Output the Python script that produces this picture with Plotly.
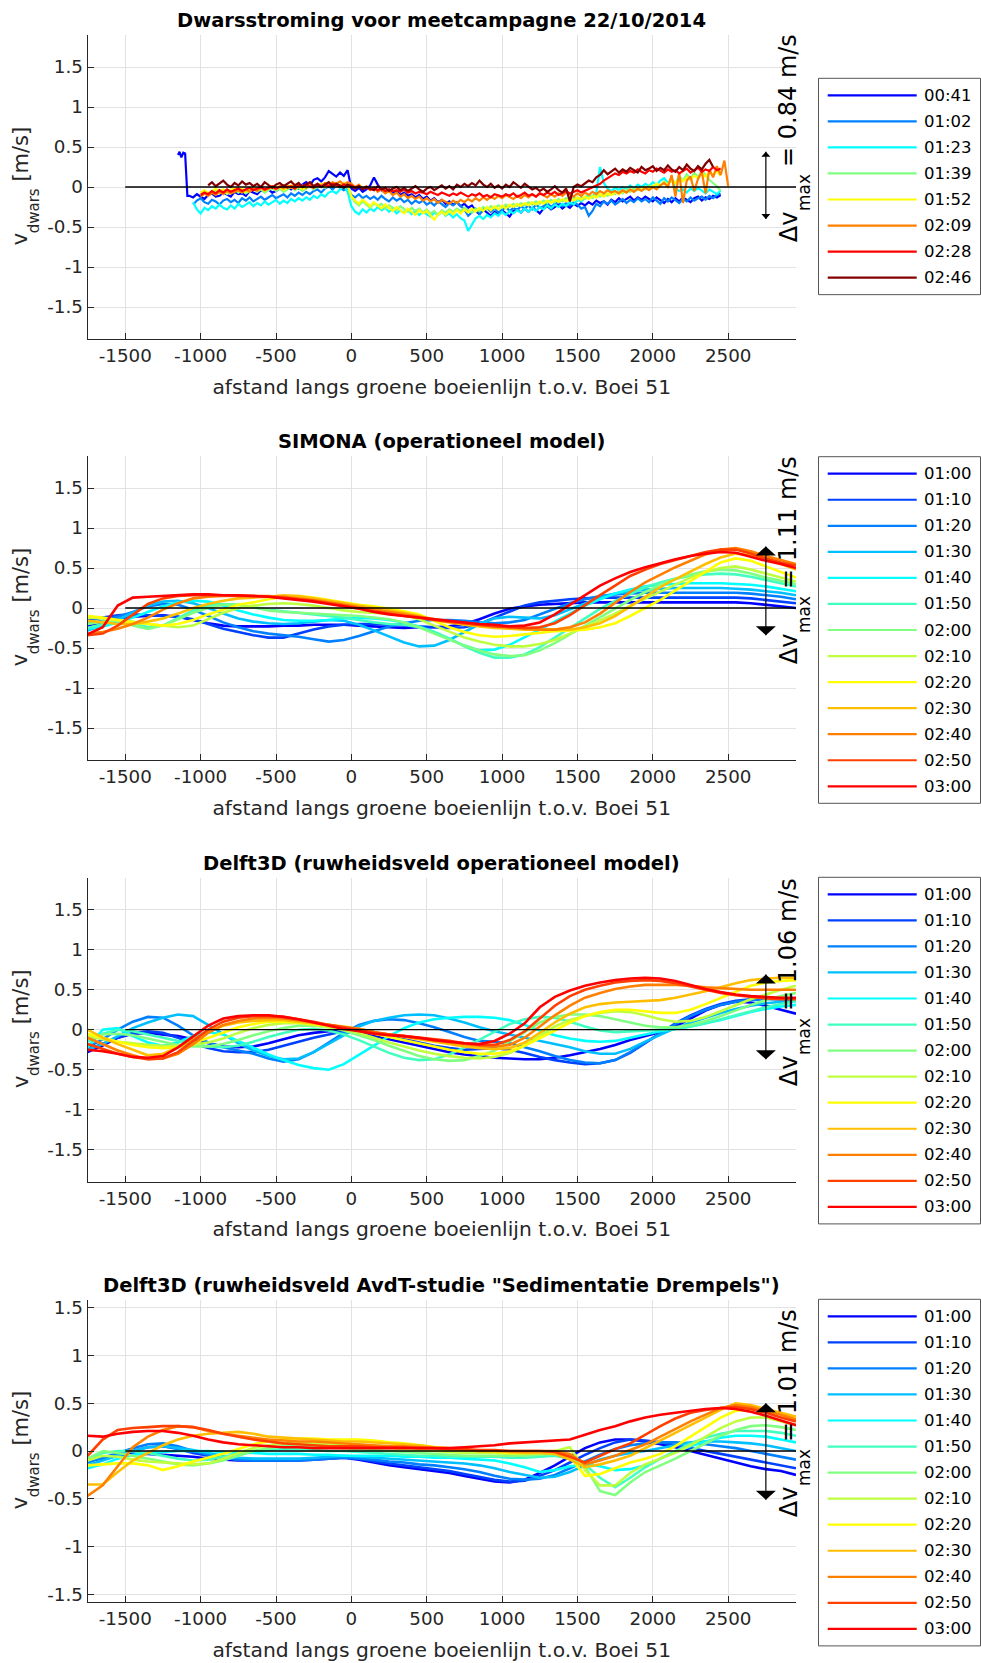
import plotly.graph_objects as go

FONT = "DejaVu Sans"
INK = "#262626"

# ---------------------------------------------------------------------------
# Panel 1: measured cross-current along the green buoy line (22/10/2014)
# ---------------------------------------------------------------------------
MEAS_TIMES = ["00:41", "01:02", "01:23", "01:39", "01:52", "02:09", "02:28", "02:46"]

M0041_X = [-1150, -1140, -1128, -1115, -1103, -1095, -1088] + list(range(-1075, 2451, 25))
M0041_V = [0.40, 0.44, 0.37, 0.43, 0.42, 0.10, -0.11,
           -0.11, -0.13, -0.09, -0.12, -0.15, -0.10, -0.08, -0.12, -0.11, -0.07,
           -0.10, -0.12, -0.06, -0.09, -0.08, -0.11, -0.05, -0.07, -0.09, -0.04,
           -0.06, -0.03, -0.07, -0.05, -0.02, -0.04, 0.00, -0.03, 0.01, -0.02,
           0.03, 0.06, 0.02, 0.09, 0.11, 0.07, 0.12, 0.20, 0.16, 0.13,
           0.18, 0.14, 0.21, -0.02, -0.05, -0.01, -0.06, -0.03, 0.02, 0.12,
           0.03, -0.04, -0.07, -0.03, -0.08, -0.05, -0.10, -0.07, -0.11, -0.09,
           -0.13, -0.10, -0.15, -0.12, -0.17, -0.14, -0.19, -0.16, -0.21, -0.18,
           -0.22, -0.19, -0.24, -0.21, -0.26, -0.23, -0.30, -0.34, -0.28, -0.32,
           -0.36, -0.31, -0.34, -0.29, -0.33, -0.37, -0.30, -0.28, -0.32, -0.27,
           -0.31, -0.26, -0.29, -0.33, -0.27, -0.24, -0.28, -0.25, -0.22, -0.27,
           -0.23, -0.26, -0.21, -0.24, -0.20, -0.23, -0.19, -0.22, -0.17, -0.20,
           -0.18, -0.22, -0.16, -0.19, -0.14, -0.18, -0.15, -0.12, -0.17, -0.13,
           -0.16, -0.12, -0.15, -0.18, -0.13, -0.17, -0.20, -0.15, -0.19, -0.14,
           -0.18, -0.13, -0.16, -0.19, -0.14, -0.12, -0.17, -0.13, -0.15, -0.11,
           -0.13, -0.10]

M0102_X = list(range(-1050, 2451, 25))
M0102_V = [-0.22, -0.17, -0.14, -0.19, -0.21, -0.16, -0.18, -0.22, -0.17, -0.15,
           -0.19, -0.16, -0.20, -0.14, -0.17, -0.13, -0.18, -0.15, -0.12, -0.16,
           -0.13, -0.10, -0.14, -0.11, -0.09, -0.13, -0.08, -0.11, -0.07, -0.10,
           -0.06, -0.09, -0.05, -0.03, -0.07, -0.02, 0.01, -0.03, 0.02, -0.01,
           -0.04, -0.02, -0.10, -0.13, -0.09, -0.14, -0.11, -0.15, -0.12, -0.16,
           -0.11, -0.15, -0.18, -0.13, -0.17, -0.14, -0.19, -0.16, -0.21, -0.17,
           -0.20, -0.17, -0.22, -0.19, -0.23, -0.18, -0.21, -0.25, -0.20, -0.23,
           -0.19, -0.24, -0.28, -0.36, -0.31, -0.27, -0.33, -0.29, -0.26, -0.31,
           -0.27, -0.32, -0.28, -0.25, -0.30, -0.26, -0.29, -0.24, -0.27, -0.23,
           -0.28, -0.22, -0.26, -0.24, -0.20, -0.25, -0.21, -0.19, -0.24, -0.20,
           -0.23, -0.19, -0.22, -0.27, -0.25, -0.36, -0.30, -0.21, -0.24, -0.18,
           -0.21, -0.17, -0.22, -0.18, -0.15, -0.20, -0.16, -0.19, -0.14, -0.18,
           -0.15, -0.19, -0.13, -0.17, -0.21, -0.14, -0.18, -0.13, -0.16, -0.20,
           -0.15, -0.18, -0.13, -0.17, -0.14, -0.12, -0.16, -0.11, -0.14, -0.10,
           -0.08]

M0123_X = list(range(-1050, 2451, 25))
M0123_V = [-0.19, -0.28, -0.33, -0.26, -0.29, -0.24, -0.27, -0.22, -0.26, -0.28,
           -0.23, -0.27, -0.21, -0.25, -0.22, -0.19, -0.24, -0.20, -0.23, -0.18,
           -0.22, -0.19, -0.16, -0.21, -0.17, -0.20, -0.15, -0.18, -0.14, -0.17,
           -0.13, -0.16, -0.11, -0.14, -0.09, -0.12, -0.07, -0.05, -0.08, -0.03,
           0.01, -0.06, -0.24, -0.31, -0.34, -0.28, -0.32, -0.27, -0.30, -0.25,
           -0.29, -0.26, -0.31, -0.27, -0.33, -0.29, -0.32, -0.28, -0.34, -0.30,
           -0.35, -0.31, -0.34, -0.37, -0.32, -0.35, -0.31, -0.36, -0.33, -0.38,
           -0.34, -0.39, -0.42, -0.55, -0.47, -0.39, -0.36, -0.40, -0.35, -0.38,
           -0.33, -0.36, -0.31, -0.35, -0.30, -0.33, -0.29, -0.32, -0.27, -0.31,
           -0.26, -0.30, -0.25, -0.28, -0.23, -0.27, -0.22, -0.25, -0.21, -0.24,
           -0.19, -0.22, -0.16, -0.18, -0.13, -0.10, -0.12, -0.07, 0.25, 0.05,
           -0.02, -0.05, -0.01, -0.04, 0.00, -0.03, 0.02, -0.02, 0.03, 0.00,
           0.04, 0.01, 0.06, 0.02, 0.08, 0.11, 0.05, 0.09, -0.02, -0.05,
           -0.03, -0.07, -0.02, -0.05, -0.01, -0.04, -0.08, -0.03, -0.06, -0.09,
           -0.04]

M0139_X = list(range(-1000, 2451, 25))
M0139_V = [-0.09, -0.06, -0.10, -0.07, -0.04, -0.08, -0.05, -0.09, -0.06, -0.03,
           -0.07, -0.04, -0.08, -0.05, -0.02, -0.06, -0.03, -0.07, -0.04, -0.01,
           -0.05, -0.02, -0.06, -0.03, 0.00, -0.04, -0.01, -0.05, -0.02, 0.01,
           -0.03, 0.00, 0.03, -0.01, 0.02, 0.04, 0.00, 0.03, 0.05, 0.01,
           -0.12, -0.19, -0.23, -0.18, -0.22, -0.26, -0.20, -0.24, -0.21, -0.27,
           -0.23, -0.26, -0.29, -0.24, -0.28, -0.31, -0.26, -0.30, -0.27, -0.32,
           -0.28, -0.33, -0.30, -0.35, -0.29, -0.32, -0.28, -0.31, -0.27, -0.30,
           -0.26, -0.29, -0.32, -0.27, -0.30, -0.25, -0.28, -0.24, -0.27, -0.23,
           -0.26, -0.22, -0.25, -0.21, -0.24, -0.20, -0.23, -0.19, -0.22, -0.18,
           -0.21, -0.17, -0.20, -0.16, -0.19, -0.15, -0.18, -0.14, -0.17, -0.13,
           -0.16, -0.12, -0.15, -0.11, -0.14, -0.09, -0.12, -0.08, -0.11, -0.06,
           -0.09, -0.05, -0.08, -0.03, -0.06, -0.02, -0.04, 0.00, -0.03, 0.02,
           0.00, 0.04, 0.01, 0.07, 0.03, 0.10, 0.05, 0.14, 0.08, 0.16,
           0.10, 0.18, 0.12, 0.21, 0.15, 0.09, 0.05, 0.01, -0.05]

M0152_X = list(range(-1000, 2451, 25))
M0152_V = [-0.07, -0.04, -0.08, -0.05, -0.02, -0.06, -0.03, -0.07, -0.04, -0.01,
           -0.05, -0.02, -0.06, -0.03, 0.00, -0.04, -0.01, -0.05, -0.02, 0.01,
           -0.03, 0.00, -0.04, -0.01, 0.02, -0.02, 0.01, -0.03, 0.00, 0.03,
           -0.01, 0.02, 0.04, 0.00, 0.03, 0.01, 0.04, 0.02, 0.05, 0.02,
           -0.12, -0.17, -0.21, -0.16, -0.20, -0.24, -0.19, -0.23, -0.27, -0.22,
           -0.26, -0.30, -0.25, -0.29, -0.33, -0.27, -0.31, -0.35, -0.29, -0.33,
           -0.30, -0.36, -0.41, -0.34, -0.31, -0.35, -0.30, -0.34, -0.29, -0.33,
           -0.28, -0.32, -0.27, -0.31, -0.26, -0.30, -0.25, -0.29, -0.24, -0.28,
           -0.23, -0.27, -0.22, -0.25, -0.21, -0.24, -0.20, -0.23, -0.19, -0.22,
           -0.18, -0.21, -0.17, -0.20, -0.16, -0.19, -0.15, -0.18, -0.14, -0.17,
           -0.13, -0.16, -0.12, -0.15, -0.11, -0.13, -0.09, -0.12, -0.08, -0.10,
           -0.06, -0.09, -0.05, -0.07, -0.03, -0.06, -0.02, -0.04, 0.00, -0.02,
           0.01, 0.04, 0.02, 0.06, 0.03, 0.08, 0.05, 0.10, 0.07, 0.12,
           0.09, 0.14, 0.11, 0.17, 0.13, 0.19, 0.15, 0.20, 0.14]

M0209_X = list(range(-1000, 2501, 25))
M0209_V = [-0.12, -0.08, -0.11, -0.07, -0.10, -0.06, -0.09, -0.05, -0.08, -0.06,
           -0.04, -0.07, -0.03, -0.06, -0.02, -0.05, -0.01, -0.04, -0.02, 0.00,
           -0.03, 0.01, -0.02, 0.02, -0.01, 0.03, 0.00, 0.02, -0.01, 0.03,
           0.01, 0.04, 0.02, 0.05, 0.03, 0.06, 0.04, 0.07, 0.03, 0.06,
           0.04, 0.00, 0.03, -0.02, 0.01, -0.04, -0.01, -0.06, -0.03, -0.08,
           -0.05, -0.10, -0.07, -0.12, -0.09, -0.14, -0.11, -0.15, -0.12, -0.17,
           -0.14, -0.18, -0.15, -0.20, -0.16, -0.19, -0.21, -0.17, -0.20, -0.16,
           -0.19, -0.15, -0.18, -0.14, -0.17, -0.13, -0.16, -0.12, -0.15, -0.11,
           -0.14, -0.10, -0.13, -0.15, -0.11, -0.14, -0.10, -0.13, -0.09, -0.12,
           -0.08, -0.11, -0.13, -0.09, -0.12, -0.08, -0.11, -0.07, -0.10, -0.12,
           -0.08, -0.11, -0.07, -0.10, -0.06, -0.09, -0.05, -0.08, -0.04, -0.07,
           -0.05, -0.08, -0.04, -0.07, -0.03, -0.06, -0.02, -0.05, -0.01, -0.04,
           0.00, -0.03, 0.02, 0.05, 0.00, 0.15, -0.12, 0.18, -0.20, 0.08,
           0.13, -0.05, 0.10, 0.19, -0.08, 0.22, 0.12, 0.26, 0.15, 0.33,
           0.01]

M0228_X = list(range(-1000, 2451, 25))
M0228_V = [-0.10, -0.07, -0.09, -0.05, -0.08, -0.04, -0.07, -0.03, -0.06, -0.04,
           -0.02, -0.05, -0.03, -0.01, -0.04, -0.02, 0.00, -0.03, -0.01, 0.01,
           -0.02, 0.00, 0.02, -0.01, 0.01, -0.02, 0.02, 0.00, 0.03, 0.01,
           -0.01, 0.02, 0.00, 0.03, 0.01, 0.04, 0.02, 0.00, 0.03, 0.01,
           0.02, -0.01, 0.01, -0.02, 0.00, -0.03, -0.01, -0.04, -0.02, -0.05,
           -0.03, -0.05, -0.04, -0.06, -0.03, -0.07, -0.05, -0.08, -0.06, -0.07,
           -0.09, -0.06, -0.08, -0.10, -0.07, -0.09, -0.11, -0.08, -0.10, -0.07,
           -0.10, -0.12, -0.09, -0.11, -0.08, -0.12, -0.10, -0.13, -0.09, -0.11,
           -0.12, -0.09, -0.11, -0.08, -0.12, -0.10, -0.07, -0.11, -0.09, -0.12,
           -0.08, -0.10, -0.07, -0.09, -0.06, -0.10, -0.07, -0.05, -0.08, -0.06,
           -0.04, -0.07, -0.05, -0.03, -0.01, 0.02, 0.04, 0.08, 0.11, 0.14,
           0.17, 0.15, 0.19, 0.17, 0.20, 0.18, 0.22, 0.19, 0.17, 0.21,
           0.19, 0.23, 0.20, 0.18, 0.22, 0.19, 0.21, 0.17, 0.20, 0.23,
           0.18, 0.21, 0.24, 0.19, 0.22, 0.20, 0.25, 0.21, 0.23]

M0246_X = list(range(-950, 2401, 25))
M0246_V = [0.02, 0.06, 0.01, 0.04, 0.08, 0.03, 0.00, 0.05, 0.02, 0.07,
           0.03, 0.05, 0.01, 0.04, 0.00, 0.06, 0.02, -0.01, 0.03, 0.05,
           0.01, 0.04, 0.07, 0.02, 0.05, 0.00, 0.03, 0.06, 0.01, 0.04,
           0.00, 0.03, 0.06, 0.01, 0.04, 0.02, -0.01, 0.03, 0.00, -0.02,
           0.01, -0.03, 0.00, -0.02, -0.04, 0.01, -0.03, -0.01, -0.05, -0.02,
           0.00, -0.04, -0.01, -0.05, -0.02, 0.01, -0.03, -0.06, -0.02, 0.00,
           -0.04, -0.01, 0.02, -0.02, 0.01, -0.03, 0.03, 0.00, 0.04, 0.01,
           0.05, 0.02, 0.08, 0.03, 0.00, 0.04, -0.01, 0.02, -0.02, 0.03,
           0.00, 0.06, 0.02, -0.01, 0.04, 0.00, -0.03, -0.01, -0.05, -0.02,
           -0.06, -0.03, 0.01, -0.04, -0.07, -0.02, -0.18, 0.00, 0.03, 0.01,
           0.05, 0.08, 0.06, 0.12, 0.15, 0.21, 0.16, 0.19, 0.23, 0.18,
           0.22, 0.19, 0.24, 0.21, 0.18, 0.25, 0.21, 0.23, 0.26, 0.20,
           0.24, 0.21, 0.27, 0.22, 0.19, 0.25, 0.21, 0.28, 0.23, 0.20,
           0.26, 0.22, 0.29, 0.34, 0.25]

# ---------------------------------------------------------------------------
# Panels 2-4: modelled cross-current, one profile per 10 minutes
# ---------------------------------------------------------------------------
MODEL_X = list(range(-1750, 2951, 100))
MODEL_TIMES = ["01:00", "01:10", "01:20", "01:30", "01:40", "01:50", "02:00",
               "02:10", "02:20", "02:30", "02:40", "02:50", "03:00"]

# SIMONA (operational model)
SIM_0100 = [-0.22, -0.18, -0.14, -0.11, -0.10, -0.09, -0.11, -0.15,
            -0.19, -0.22, -0.23, -0.23, -0.23, -0.22, -0.22, -0.21,
            -0.21, -0.21, -0.22, -0.23, -0.24, -0.25, -0.24, -0.24,
            -0.23, -0.20, -0.14, -0.07, -0.01, 0.02, 0.04, 0.05,
            0.06, 0.07, 0.07, 0.07, 0.07, 0.07, 0.07, 0.07,
            0.07, 0.07, 0.07, 0.07, 0.06, 0.04, 0.02, 0.00]
SIM_0110 = [-0.16, -0.12, -0.09, -0.08, -0.09, -0.10, -0.11, -0.14,
            -0.20, -0.26, -0.30, -0.34, -0.37, -0.37, -0.32, -0.27,
            -0.23, -0.21, -0.20, -0.20, -0.21, -0.22, -0.23, -0.24,
            -0.25, -0.24, -0.20, -0.12, -0.04, 0.03, 0.07, 0.09,
            0.11, 0.12, 0.13, 0.13, 0.13, 0.13, 0.13, 0.13,
            0.13, 0.13, 0.13, 0.13, 0.12, 0.10, 0.08, 0.06]
SIM_0120 = [-0.20, -0.16, -0.11, -0.05, 0.02, 0.05, 0.04, -0.02,
            -0.10, -0.18, -0.24, -0.29, -0.32, -0.34, -0.36, -0.39,
            -0.42, -0.40, -0.35, -0.29, -0.23, -0.19, -0.16, -0.15,
            -0.15, -0.16, -0.18, -0.19, -0.18, -0.15, -0.08, -0.01,
            0.06, 0.11, 0.15, 0.17, 0.18, 0.19, 0.19, 0.19,
            0.19, 0.19, 0.19, 0.19, 0.18, 0.16, 0.14, 0.11]
SIM_0130 = [-0.28, -0.22, -0.15, -0.06, 0.03, 0.08, 0.09, 0.06,
            0.00, -0.07, -0.13, -0.17, -0.19, -0.20, -0.19, -0.17,
            -0.15, -0.16, -0.21, -0.28, -0.36, -0.43, -0.48, -0.47,
            -0.40, -0.30, -0.20, -0.13, -0.11, -0.12, -0.13, -0.09,
            -0.02, 0.06, 0.13, 0.18, 0.21, 0.23, 0.24, 0.25,
            0.25, 0.25, 0.25, 0.24, 0.23, 0.21, 0.19, 0.16]
SIM_0140 = [-0.26, -0.23, -0.18, -0.12, -0.05, 0.02, 0.07, 0.09,
            0.08, 0.03, -0.03, -0.08, -0.12, -0.15, -0.16, -0.16,
            -0.15, -0.13, -0.12, -0.13, -0.15, -0.18, -0.23, -0.30,
            -0.39, -0.47, -0.53, -0.52, -0.46, -0.37, -0.27, -0.17,
            -0.07, 0.03, 0.11, 0.18, 0.23, 0.27, 0.29, 0.30,
            0.31, 0.31, 0.31, 0.30, 0.29, 0.27, 0.24, 0.21]
SIM_0150 = [-0.25, -0.20, -0.15, -0.18, -0.24, -0.22, -0.12, -0.03,
            0.03, 0.05, 0.04, 0.01, -0.02, -0.04, -0.06, -0.08,
            -0.10, -0.12, -0.15, -0.18, -0.20, -0.21, -0.24, -0.30,
            -0.38, -0.48, -0.56, -0.62, -0.62, -0.58, -0.49, -0.37,
            -0.24, -0.12, -0.01, 0.09, 0.18, 0.26, 0.32, 0.37,
            0.40, 0.42, 0.43, 0.42, 0.39, 0.35, 0.31, 0.27]
SIM_0200 = [-0.20, -0.17, -0.16, -0.22, -0.26, -0.22, -0.14, -0.06,
            0.00, 0.04, 0.04, 0.01, -0.03, -0.05, -0.06, -0.07,
            -0.08, -0.09, -0.10, -0.12, -0.14, -0.18, -0.24, -0.32,
            -0.40, -0.47, -0.53, -0.58, -0.60, -0.59, -0.53, -0.44,
            -0.33, -0.22, -0.11, 0.00, 0.10, 0.20, 0.29, 0.36,
            0.42, 0.46, 0.48, 0.47, 0.43, 0.38, 0.34, 0.30]
SIM_0210 = [-0.12, -0.13, -0.15, -0.17, -0.20, -0.22, -0.24, -0.22,
            -0.14, -0.06, 0.00, 0.03, 0.05, 0.06, 0.05, 0.03,
            0.00, -0.03, -0.05, -0.06, -0.07, -0.09, -0.14, -0.22,
            -0.30, -0.37, -0.42, -0.46, -0.48, -0.48, -0.45, -0.40,
            -0.32, -0.24, -0.16, -0.07, 0.03, 0.12, 0.21, 0.30,
            0.38, 0.45, 0.50, 0.52, 0.48, 0.43, 0.38, 0.33]
SIM_0220 = [-0.10, -0.12, -0.15, -0.18, -0.20, -0.22, -0.20, -0.15,
            -0.08, -0.02, 0.04, 0.07, 0.11, 0.14, 0.15, 0.13,
            0.10, 0.07, 0.04, 0.02, -0.01, -0.04, -0.08, -0.16,
            -0.24, -0.30, -0.34, -0.36, -0.35, -0.33, -0.31, -0.29,
            -0.28, -0.27, -0.24, -0.19, -0.10, 0.00, 0.10, 0.22,
            0.34, 0.46, 0.57, 0.62, 0.59, 0.52, 0.45, 0.38]
SIM_0230 = [-0.16, -0.18, -0.20, -0.20, -0.17, -0.13, -0.07, 0.00,
            0.05, 0.09, 0.12, 0.13, 0.14, 0.16, 0.15, 0.12,
            0.09, 0.06, 0.03, 0.00, -0.03, -0.06, -0.10, -0.15,
            -0.18, -0.21, -0.23, -0.25, -0.26, -0.27, -0.27, -0.27,
            -0.27, -0.24, -0.19, -0.10, 0.02, 0.15, 0.26, 0.36,
            0.46, 0.55, 0.63, 0.68, 0.66, 0.61, 0.55, 0.48]
SIM_0240 = [-0.32, -0.30, -0.26, -0.20, -0.12, -0.02, 0.06, 0.12,
            0.14, 0.15, 0.15, 0.15, 0.15, 0.14, 0.12, 0.10,
            0.07, 0.04, 0.01, -0.02, -0.05, -0.08, -0.11, -0.14,
            -0.17, -0.19, -0.21, -0.22, -0.24, -0.26, -0.27, -0.27,
            -0.24, -0.18, -0.07, 0.07, 0.20, 0.32, 0.42, 0.51,
            0.59, 0.67, 0.73, 0.75, 0.71, 0.65, 0.60, 0.55]
SIM_0250 = [-0.34, -0.32, -0.22, -0.08, 0.05, 0.12, 0.15, 0.16,
            0.16, 0.16, 0.15, 0.15, 0.14, 0.13, 0.11, 0.09,
            0.06, 0.03, 0.00, -0.04, -0.07, -0.10, -0.12, -0.15,
            -0.17, -0.19, -0.21, -0.23, -0.24, -0.25, -0.24, -0.19,
            -0.09, 0.04, 0.16, 0.28, 0.40, 0.48, 0.55, 0.60,
            0.65, 0.70, 0.73, 0.73, 0.68, 0.62, 0.57, 0.53]
SIM_0300 = [-0.33, -0.24, 0.03, 0.13, 0.14, 0.15, 0.16, 0.17,
            0.17, 0.16, 0.16, 0.15, 0.14, 0.12, 0.10, 0.08,
            0.05, 0.02, -0.01, -0.05, -0.08, -0.10, -0.12, -0.14,
            -0.16, -0.18, -0.20, -0.21, -0.23, -0.22, -0.18, -0.08,
            0.04, 0.16, 0.28, 0.37, 0.45, 0.51, 0.56, 0.61,
            0.65, 0.68, 0.70, 0.69, 0.64, 0.59, 0.55, 0.50]

# Delft3D, roughness field of the operational model
D3O_0100 = [-0.28, -0.20, -0.10, -0.05, -0.04, -0.06, -0.08, -0.12,
            -0.17, -0.21, -0.22, -0.21, -0.17, -0.12, -0.07, -0.04,
            -0.02, -0.02, -0.04, -0.08, -0.12, -0.16, -0.20, -0.24,
            -0.28, -0.31, -0.33, -0.35, -0.36, -0.37, -0.37, -0.35,
            -0.32, -0.28, -0.24, -0.19, -0.13, -0.08, -0.03, 0.04,
            0.14, 0.24, 0.31, 0.35, 0.34, 0.30, 0.25, 0.20]
D3O_0110 = [-0.25, -0.18, -0.10, -0.04, -0.02, -0.04, -0.10, -0.17,
            -0.23, -0.27, -0.28, -0.28, -0.25, -0.20, -0.15, -0.10,
            -0.06, -0.02, 0.00, -0.03, -0.08, -0.12, -0.16, -0.20,
            -0.23, -0.25, -0.24, -0.23, -0.25, -0.29, -0.34, -0.38,
            -0.41, -0.43, -0.42, -0.38, -0.29, -0.17, -0.04, 0.08,
            0.18, 0.26, 0.32, 0.36, 0.38, 0.39, 0.38, 0.36]
D3O_0120 = [-0.22, -0.12, 0.00, 0.10, 0.16, 0.15, 0.05, -0.07,
            -0.16, -0.22, -0.26, -0.30, -0.36, -0.40, -0.37, -0.28,
            -0.16, -0.04, 0.06, 0.11, 0.13, 0.12, 0.08, 0.03,
            -0.03, -0.09, -0.14, -0.15, -0.17, -0.22, -0.27, -0.33,
            -0.38, -0.41, -0.42, -0.38, -0.28, -0.16, -0.04, 0.07,
            0.17, 0.25, 0.31, 0.35, 0.37, 0.38, 0.38, 0.37]
D3O_0130 = [-0.25, -0.18, -0.08, 0.02, 0.09, 0.15, 0.19, 0.17,
            0.06, -0.06, -0.17, -0.26, -0.33, -0.37, -0.36, -0.28,
            -0.18, -0.07, 0.04, 0.11, 0.15, 0.18, 0.19, 0.18,
            0.14, 0.09, 0.03, -0.02, -0.06, -0.10, -0.14, -0.18,
            -0.22, -0.27, -0.30, -0.30, -0.24, -0.15, -0.06, 0.02,
            0.09, 0.15, 0.21, 0.26, 0.30, 0.33, 0.35, 0.36]
D3O_0140 = [-0.22, 0.00, 0.02, -0.08, -0.16, -0.20, -0.16, -0.08,
            -0.03, -0.06, -0.14, -0.23, -0.31, -0.38, -0.44, -0.48,
            -0.50, -0.43, -0.32, -0.20, -0.08, 0.02, 0.09, 0.13,
            0.15, 0.16, 0.16, 0.15, 0.12, 0.06, -0.01, -0.07,
            -0.11, -0.14, -0.15, -0.14, -0.10, -0.06, -0.02, 0.01,
            0.04, 0.08, 0.12, 0.17, 0.22, 0.26, 0.29, 0.31]
D3O_0150 = [-0.15, -0.05, 0.00, -0.02, -0.06, -0.10, -0.14, -0.18,
            -0.21, -0.22, -0.20, -0.15, -0.09, -0.04, 0.00, 0.01,
            -0.01, -0.06, -0.13, -0.21, -0.29, -0.35, -0.38, -0.37,
            -0.31, -0.22, -0.12, -0.02, 0.07, 0.13, 0.16, 0.15,
            0.10, 0.04, -0.01, -0.03, -0.02, -0.01, 0.00, 0.01,
            0.04, 0.08, 0.13, 0.18, 0.23, 0.28, 0.32, 0.36]
D3O_0200 = [-0.12, -0.06, -0.05, -0.07, -0.11, -0.15, -0.19, -0.21,
            -0.21, -0.18, -0.13, -0.07, -0.02, 0.02, 0.05, 0.05,
            0.03, -0.01, -0.07, -0.13, -0.20, -0.27, -0.33, -0.37,
            -0.39, -0.38, -0.33, -0.26, -0.15, -0.03, 0.09, 0.16,
            0.19, 0.19, 0.17, 0.13, 0.09, 0.05, 0.03, 0.03,
            0.06, 0.11, 0.17, 0.24, 0.31, 0.37, 0.42, 0.46]
D3O_0210 = [-0.08, -0.12, -0.15, -0.17, -0.19, -0.20, -0.20, -0.19,
            -0.16, -0.11, -0.04, 0.02, 0.06, 0.08, 0.08, 0.06,
            0.03, 0.00, -0.04, -0.10, -0.16, -0.21, -0.26, -0.30,
            -0.33, -0.35, -0.36, -0.34, -0.29, -0.20, -0.08, 0.04,
            0.12, 0.17, 0.21, 0.23, 0.22, 0.18, 0.13, 0.10,
            0.11, 0.16, 0.23, 0.30, 0.38, 0.44, 0.50, 0.55]
D3O_0220 = [-0.05, -0.10, -0.15, -0.19, -0.22, -0.23, -0.22, -0.17,
            -0.10, -0.03, 0.03, 0.07, 0.10, 0.10, 0.09, 0.07,
            0.05, 0.03, 0.00, -0.05, -0.09, -0.13, -0.17, -0.21,
            -0.25, -0.28, -0.30, -0.30, -0.27, -0.20, -0.11, -0.01,
            0.09, 0.17, 0.22, 0.25, 0.25, 0.23, 0.21, 0.21,
            0.25, 0.32, 0.40, 0.48, 0.55, 0.59, 0.61, 0.62]
D3O_0230 = [0.00, -0.10, -0.18, -0.25, -0.32, -0.30, -0.22, -0.12,
            -0.02, 0.05, 0.09, 0.11, 0.12, 0.12, 0.10, 0.08,
            0.06, 0.04, 0.01, -0.03, -0.06, -0.09, -0.12, -0.15,
            -0.18, -0.21, -0.23, -0.24, -0.23, -0.16, -0.04, 0.09,
            0.20, 0.28, 0.32, 0.34, 0.35, 0.36, 0.37, 0.40,
            0.44, 0.48, 0.53, 0.58, 0.62, 0.64, 0.65, 0.65]
D3O_0240 = [-0.10, -0.18, -0.26, -0.32, -0.37, -0.36, -0.30, -0.18,
            -0.04, 0.06, 0.11, 0.14, 0.15, 0.14, 0.12, 0.09,
            0.06, 0.03, 0.01, -0.03, -0.06, -0.08, -0.11, -0.13,
            -0.16, -0.18, -0.20, -0.21, -0.19, -0.10, 0.04, 0.18,
            0.30, 0.40, 0.46, 0.51, 0.54, 0.56, 0.56, 0.56,
            0.55, 0.53, 0.52, 0.51, 0.50, 0.50, 0.50, 0.50]
D3O_0250 = [-0.18, -0.24, -0.30, -0.34, -0.37, -0.36, -0.28, -0.14,
            0.00, 0.10, 0.15, 0.17, 0.17, 0.16, 0.13, 0.10,
            0.06, 0.03, 0.00, -0.04, -0.06, -0.08, -0.10, -0.12,
            -0.14, -0.17, -0.19, -0.19, -0.13, -0.02, 0.14, 0.30,
            0.42, 0.50, 0.55, 0.59, 0.61, 0.62, 0.61, 0.58,
            0.54, 0.50, 0.46, 0.43, 0.41, 0.39, 0.38, 0.38]
D3O_0300 = [-0.25, -0.27, -0.30, -0.34, -0.35, -0.33, -0.22, -0.08,
            0.05, 0.14, 0.17, 0.18, 0.18, 0.16, 0.13, 0.09,
            0.05, 0.01, -0.02, -0.05, -0.07, -0.08, -0.10, -0.13,
            -0.15, -0.17, -0.18, -0.14, -0.05, 0.08, 0.28, 0.41,
            0.49, 0.55, 0.59, 0.62, 0.64, 0.65, 0.64, 0.61,
            0.56, 0.51, 0.47, 0.44, 0.42, 0.41, 0.40, 0.40]

# Delft3D, roughness field of the AvdT study "Sedimentatie Drempels"
AVD_0100 = [-0.10, -0.07, -0.05, -0.03, -0.03, -0.04, -0.05, -0.06,
            -0.08, -0.09, -0.10, -0.10, -0.10, -0.10, -0.10, -0.09,
            -0.08, -0.07, -0.09, -0.12, -0.15, -0.17, -0.19, -0.21,
            -0.23, -0.26, -0.29, -0.32, -0.33, -0.30, -0.23, -0.15,
            -0.06, 0.03, 0.09, 0.12, 0.12, 0.10, 0.07, 0.04,
            0.00, -0.04, -0.08, -0.12, -0.16, -0.19, -0.21, -0.25]
AVD_0110 = [-0.10, -0.08, -0.05, 0.00, 0.04, 0.05, 0.02, -0.02,
            -0.05, -0.07, -0.09, -0.10, -0.10, -0.10, -0.09, -0.08,
            -0.07, -0.06, -0.08, -0.11, -0.13, -0.15, -0.17, -0.19,
            -0.21, -0.24, -0.27, -0.30, -0.32, -0.31, -0.26, -0.20,
            -0.12, -0.04, 0.03, 0.09, 0.12, 0.11, 0.09, 0.06,
            0.03, 0.00, -0.03, -0.06, -0.09, -0.12, -0.15, -0.18]
AVD_0120 = [-0.12, -0.07, -0.02, 0.03, 0.07, 0.08, 0.05, 0.00,
            -0.04, -0.07, -0.09, -0.10, -0.10, -0.10, -0.10, -0.09,
            -0.08, -0.07, -0.08, -0.09, -0.11, -0.12, -0.14, -0.15,
            -0.17, -0.19, -0.22, -0.26, -0.29, -0.30, -0.29, -0.25,
            -0.18, -0.11, -0.04, 0.02, 0.06, 0.08, 0.09, 0.09,
            0.08, 0.07, 0.05, 0.03, 0.00, -0.03, -0.06, -0.09]
AVD_0130 = [-0.15, -0.10, -0.05, 0.00, 0.04, 0.05, 0.03, 0.01,
            -0.02, -0.05, -0.07, -0.08, -0.08, -0.08, -0.08, -0.07,
            -0.06, -0.05, -0.06, -0.07, -0.08, -0.09, -0.10, -0.11,
            -0.12, -0.13, -0.15, -0.18, -0.22, -0.25, -0.28, -0.27,
            -0.22, -0.15, -0.09, -0.05, -0.02, 0.00, 0.03, 0.06,
            0.09, 0.10, 0.10, 0.09, 0.08, 0.06, 0.03, 0.00]
AVD_0140 = [-0.18, -0.14, -0.08, -0.04, -0.02, -0.01, 0.00, 0.00,
            0.00, -0.01, -0.02, -0.02, -0.03, -0.03, -0.03, -0.04,
            -0.04, -0.05, -0.05, -0.05, -0.05, -0.06, -0.06, -0.07,
            -0.07, -0.08, -0.09, -0.10, -0.13, -0.17, -0.22, -0.20,
            -0.16, -0.14, -0.16, -0.20, -0.19, -0.15, -0.08, -0.01,
            0.05, 0.10, 0.14, 0.16, 0.16, 0.15, 0.12, 0.09]
AVD_0150 = [-0.10, -0.02, 0.00, 0.00, -0.02, -0.05, -0.08, -0.10,
            -0.09, -0.06, -0.03, 0.00, 0.01, 0.02, 0.02, 0.01,
            0.00, 0.00, -0.01, -0.02, -0.03, -0.04, -0.05, -0.05,
            -0.06, -0.06, -0.06, -0.06, -0.07, -0.07, -0.06, -0.05,
            -0.08, -0.14, -0.28, -0.38, -0.28, -0.17, -0.08, 0.00,
            0.08, 0.14, 0.18, 0.21, 0.21, 0.21, 0.19, 0.16]
AVD_0200 = [-0.08, 0.00, -0.02, -0.05, -0.08, -0.11, -0.14, -0.15,
            -0.13, -0.10, -0.05, 0.00, 0.03, 0.05, 0.05, 0.05,
            0.04, 0.03, 0.02, 0.01, 0.00, -0.01, -0.02, -0.03,
            -0.04, -0.05, -0.05, -0.05, -0.05, -0.05, -0.04, -0.03,
            -0.05, -0.16, -0.42, -0.46, -0.33, -0.22, -0.15, -0.08,
            0.00, 0.08, 0.16, 0.22, 0.26, 0.27, 0.25, 0.22]
AVD_0210 = [-0.10, -0.05, -0.06, -0.09, -0.11, -0.12, -0.13, -0.14,
            -0.13, -0.08, -0.02, 0.03, 0.06, 0.08, 0.08, 0.08,
            0.07, 0.06, 0.05, 0.04, 0.03, 0.02, 0.01, 0.00,
            -0.01, -0.02, -0.02, -0.02, -0.03, -0.03, -0.02, 0.00,
            0.04, -0.20, -0.36, -0.36, -0.23, -0.14, -0.08, -0.02,
            0.06, 0.15, 0.24, 0.31, 0.35, 0.35, 0.31, 0.27]
AVD_0220 = [-0.15, -0.14, -0.13, -0.13, -0.15, -0.20, -0.16, -0.11,
            -0.07, -0.03, 0.02, 0.07, 0.10, 0.12, 0.13, 0.13,
            0.12, 0.12, 0.12, 0.11, 0.09, 0.08, 0.06, 0.04,
            0.02, 0.01, 0.00, -0.01, -0.02, -0.02, -0.02, -0.02,
            -0.06, -0.26, -0.24, -0.18, -0.12, -0.08, -0.03, 0.05,
            0.15, 0.25, 0.35, 0.42, 0.44, 0.43, 0.39, 0.35]
AVD_0230 = [-0.35, -0.35, -0.22, -0.10, -0.02, 0.06, 0.12, 0.16,
            0.18, 0.19, 0.20, 0.18, 0.15, 0.14, 0.13, 0.12,
            0.11, 0.10, 0.10, 0.09, 0.08, 0.07, 0.06, 0.04,
            0.03, 0.01, 0.00, 0.00, -0.01, -0.02, -0.02, -0.03,
            -0.09, -0.17, -0.14, -0.10, -0.05, 0.03, 0.11, 0.19,
            0.27, 0.35, 0.43, 0.50, 0.48, 0.44, 0.40, 0.36]
AVD_0240 = [-0.47, -0.36, -0.16, 0.04, 0.15, 0.22, 0.26, 0.25,
            0.21, 0.18, 0.16, 0.14, 0.12, 0.11, 0.10, 0.10,
            0.09, 0.08, 0.07, 0.06, 0.05, 0.05, 0.04, 0.03,
            0.02, 0.01, 0.00, 0.00, 0.00, 0.00, 0.00, 0.00,
            -0.03, -0.14, -0.10, -0.05, 0.01, 0.07, 0.15, 0.23,
            0.31, 0.38, 0.45, 0.48, 0.46, 0.42, 0.38, 0.33]
AVD_0250 = [-0.05, 0.12, 0.22, 0.24, 0.25, 0.26, 0.26, 0.25,
            0.22, 0.18, 0.15, 0.12, 0.10, 0.08, 0.07, 0.06,
            0.05, 0.05, 0.05, 0.04, 0.04, 0.04, 0.03, 0.03,
            0.02, 0.02, 0.01, 0.01, 0.00, 0.00, 0.00, -0.01,
            -0.06, -0.12, -0.05, 0.02, 0.08, 0.17, 0.26, 0.34,
            0.40, 0.43, 0.45, 0.46, 0.44, 0.40, 0.35, 0.31]
AVD_0300 = [0.16, 0.15, 0.18, 0.20, 0.21, 0.21, 0.19, 0.16,
            0.12, 0.09, 0.07, 0.06, 0.05, 0.04, 0.04, 0.03,
            0.03, 0.03, 0.03, 0.03, 0.03, 0.03, 0.03, 0.03,
            0.03, 0.04, 0.05, 0.06, 0.08, 0.09, 0.10, 0.11,
            0.12, 0.17, 0.22, 0.26, 0.31, 0.35, 0.38, 0.40,
            0.42, 0.44, 0.45, 0.44, 0.41, 0.37, 0.32, 0.27]

# Maximum spread of the cross-current per panel and the lower end of the arrow
DV_MAX = [0.84, 1.11, 1.06, 1.01]
DV_LOW = [-0.40, -0.34, -0.37, -0.51]
DV_AT = 2750  # distance at which the spread arrow is drawn

TITLES = ["Dwarsstroming voor meetcampagne 22/10/2014",
          "SIMONA (operationeel model)",
          "Delft3D (ruwheidsveld operationeel model)",
          'Delft3D (ruwheidsveld AvdT-studie "Sedimentatie Drempels")']
X_LABEL = "afstand langs groene boeienlijn t.o.v. Boei 51"

X_TICKS = [-1500, -1000, -500, 0, 500, 1000, 1500, 2000, 2500]
Y_TICKS = [-1.5, -1, -0.5, 0, 0.5, 1, 1.5]

# jet colour maps (8 colours for the measurements, 13 for the model runs)
JET8 = ["#0000ff", "#0080ff", "#00ffff", "#80ff80",
        "#ffff00", "#ff8000", "#ff0000", "#800000"]
JET13 = ["#0000ff", "#0040ff", "#0080ff", "#00bfff", "#00ffff", "#40ffbf",
         "#80ff80", "#bfff40", "#ffff00", "#ffbf00", "#ff8000", "#ff4000",
         "#ff0000"]

meas = [(M0041_X, M0041_V), (M0102_X, M0102_V), (M0123_X, M0123_V),
        (M0139_X, M0139_V), (M0152_X, M0152_V), (M0209_X, M0209_V),
        (M0228_X, M0228_V), (M0246_X, M0246_V)]
sim = [SIM_0100, SIM_0110, SIM_0120, SIM_0130, SIM_0140, SIM_0150, SIM_0200,
       SIM_0210, SIM_0220, SIM_0230, SIM_0240, SIM_0250, SIM_0300]
d3o = [D3O_0100, D3O_0110, D3O_0120, D3O_0130, D3O_0140, D3O_0150, D3O_0200,
       D3O_0210, D3O_0220, D3O_0230, D3O_0240, D3O_0250, D3O_0300]
avd = [AVD_0100, AVD_0110, AVD_0120, AVD_0130, AVD_0140, AVD_0150, AVD_0200,
       AVD_0210, AVD_0220, AVD_0230, AVD_0240, AVD_0250, AVD_0300]

for xs, vs in meas:
    assert len(xs) == len(vs), (len(xs), len(vs))
for grp in (sim, d3o, avd):
    for vs in grp:
        assert len(vs) == len(MODEL_X)

panel_series = [
    (meas, MEAS_TIMES, JET8),
    ([(MODEL_X, v) for v in sim], MODEL_TIMES, JET13),
    ([(MODEL_X, v) for v in d3o], MODEL_TIMES, JET13),
    ([(MODEL_X, v) for v in avd], MODEL_TIMES, JET13),
]

# ---------------------------------------------------------------------------
# Page layout (pixel geometry of the 981 x 1663 page)
# ---------------------------------------------------------------------------
W, H = 981, 1663


def fx(p):
    return p / W


def fy(p):
    return 1 - p / H


# DejaVu Sans advance widths (em), used to chain the pieces of the labels
# that carry a subscript
ADV = {" ": .318, "v": .592, "d": .635, "w": .818, "a": .613, "r": .411,
       "s": .521, "[": .390, "]": .390, "m": .974, "/": .337, "x": .592,
       "\u0394": .684, "=": .838, ".": .318}
ADV.update({str(i): .636 for i in range(10)})


def adv(text, size):
    return sum(ADV[c] for c in text) * size


def rotated_run(parts, start_y, color):
    """Bottom-to-top text built from (text, size, centre_x, gap) parts;
    start_y is the page-pixel position where the first part begins."""
    out = []
    y = start_y
    for text, size, cx, gap in parts:
        y -= gap
        out.append(dict(xref="paper", yref="paper", x=fx(cx), y=fy(y),
                        text=text, textangle=-90, showarrow=False,
                        xanchor="center", yanchor="bottom", borderpad=0,
                        font=dict(family=FONT, size=size, color=color)))
        y -= adv(text, size)
    return out


PLOT_L, PLOT_R = 87.6, 796
# (top, bottom) of each plot area and its y range
FRAMES = [(35, 339, [-1.9, 1.9]),
          (456, 760, [-1.9, 1.9]),
          (877.7, 1181.7, [-1.9, 1.9]),
          (1300, 1602, [-1.58, 1.58])]
TITLE_Y = [20.5, 442, 863, 1285]
LEGEND_TOP = [78.3, 456.7, 877.3, 1299.3]
DV_TEXT_START = [243, 665, 1087, 1518]
HEAD = [(9, 5), (20, 9), (20, 9), (20, 9)]  # arrowhead width, height (px)

# label sizes: main text / subscript, and the baselines they sit on
YL_MAIN, YL_SUB = 21, 15
YL_BASE, YL_SUB_BASE = 28, 39
DV_MAIN, DV_SUB = 24, 17
DV_BASE, DV_SUB_BASE = 797, 810
ASC_SHIFT = 0.346  # text box centre lies this many em above the baseline

AXIS = dict(showgrid=True, gridcolor="#e2e2e2", gridwidth=1, zeroline=False,
            showline=True, linecolor=INK, linewidth=1, ticks="inside",
            ticklen=6, tickwidth=1, tickcolor=INK, automargin=False,
            tickfont=dict(family=FONT, size=18.3, color=INK), fixedrange=True)

fig = go.Figure()
shapes, notes = [], []

for k, (top, bottom, yr) in enumerate(FRAMES):
    sfx = "" if k == 0 else str(k + 1)
    xa, ya = "x" + sfx, "y" + sfx
    fig.update_layout({
        "xaxis" + sfx: dict(domain=[fx(PLOT_L), fx(PLOT_R)], anchor=ya,
                            range=[-1750, 2950], tickvals=X_TICKS,
                            ticktext=[str(t) for t in X_TICKS],
                            title=dict(text=X_LABEL, standoff=14,
                                       font=dict(family=FONT, size=20.3, color=INK)),
                            **AXIS),
        "yaxis" + sfx: dict(domain=[fy(bottom), fy(top)], anchor=xa, range=yr,
                            tickvals=Y_TICKS,
                            ticktext=[f"{t:g}" for t in Y_TICKS], **AXIS),
    })

    series, times, colors = panel_series[k]
    lw = 2.2 if k == 0 else 2.6
    for (xs, vs), name, col in zip(series, times, colors):
        fig.add_trace(go.Scatter(x=xs, y=vs, mode="lines", name=name,
                                 line=dict(color=col, width=lw),
                                 xaxis=xa, yaxis=ya, showlegend=False))

    # zero reference line
    shapes.append(dict(type="line", xref=xa, yref=ya, x0=-1500, x1=2950,
                       y0=0, y1=0, line=dict(color="black", width=1.3)))

    # spread arrow
    lo = DV_LOW[k]
    hi = DV_LOW[k] + DV_MAX[k]
    hw, hh = HEAD[k]
    shapes.append(dict(type="line", xref=xa, yref=ya, x0=DV_AT, x1=DV_AT,
                       y0=lo, y1=hi, line=dict(color="black", width=1.2)))
    shapes.append(dict(type="path", xref=xa, yref=ya, xsizemode="pixel",
                       ysizemode="pixel", xanchor=DV_AT, yanchor=hi,
                       path=f"M{-hw/2},{-hh} L{hw/2},{-hh} L0,0 Z",
                       fillcolor="black", line=dict(width=0)))
    shapes.append(dict(type="path", xref=xa, yref=ya, xsizemode="pixel",
                       ysizemode="pixel", xanchor=DV_AT, yanchor=lo,
                       path=f"M{-hw/2},{hh} L{hw/2},{hh} L0,0 Z",
                       fillcolor="black", line=dict(width=0)))

    # spread label:  Δv_max = ... m/s
    dv_main_cx = DV_BASE - ASC_SHIFT * DV_MAIN
    dv_sub_cx = DV_SUB_BASE - ASC_SHIFT * DV_SUB
    dv_parts = [("\u0394v", DV_MAIN, dv_main_cx, 0),
                ("max", DV_SUB, dv_sub_cx, 0),
                (f"= {DV_MAX[k]:.2f} m/s", DV_MAIN, dv_main_cx, adv(" ", DV_MAIN))]
    notes.extend(rotated_run(dv_parts, DV_TEXT_START[k], "black"))

    # y-axis label:  v_dwars [m/s]
    yl_main_cx = YL_BASE - ASC_SHIFT * YL_MAIN
    yl_sub_cx = YL_SUB_BASE - ASC_SHIFT * YL_SUB
    yl_len = adv("v", YL_MAIN) + adv("dwars", YL_SUB) + adv(" [m/s]", YL_MAIN)
    yl_parts = [("v", YL_MAIN, yl_main_cx, 0),
                ("dwars", YL_SUB, yl_sub_cx, 0),
                ("[m/s]", YL_MAIN, yl_main_cx, adv(" ", YL_MAIN))]
    notes.extend(rotated_run(yl_parts, (top + bottom) / 2 + yl_len / 2, INK))

    # panel title
    notes.append(dict(xref="paper", yref="paper", x=fx((PLOT_L + PLOT_R) / 2),
                      y=fy(TITLE_Y[k]), text=f"<b>{TITLES[k]}</b>",
                      showarrow=False, xanchor="center", yanchor="middle",
                      font=dict(family=FONT, size=19.5, color="black")))

    # legend box
    ltop = LEGEND_TOP[k]
    n = len(times)
    lbot = ltop + 34 + 26.05 * (n - 1)
    shapes.append(dict(type="rect", xref="paper", yref="paper",
                       x0=fx(818.5), x1=fx(980.5), y0=fy(lbot), y1=fy(ltop),
                       line=dict(color="#555555", width=1), fillcolor="white",
                       layer="above"))
    for i, (name, col) in enumerate(zip(times, colors)):
        yc = ltop + 17 + 26.05 * i
        shapes.append(dict(type="line", xref="paper", yref="paper",
                           x0=fx(827.7), x1=fx(916.7), y0=fy(yc), y1=fy(yc),
                           line=dict(color=col, width=2.2), layer="above"))
        notes.append(dict(xref="paper", yref="paper", x=fx(921.5), y=fy(yc),
                          text=name, showarrow=False, xanchor="left",
                          yanchor="middle",
                          font=dict(family=FONT, size=16.5, color="black")))

fig.update_layout(width=W, height=H, autosize=False,
                  margin=dict(l=0, r=0, t=0, b=0),
                  paper_bgcolor="white", plot_bgcolor="white",
                  showlegend=False, shapes=shapes, annotations=notes,
                  font=dict(family=FONT, color=INK))

fig.write_html("out.html")
